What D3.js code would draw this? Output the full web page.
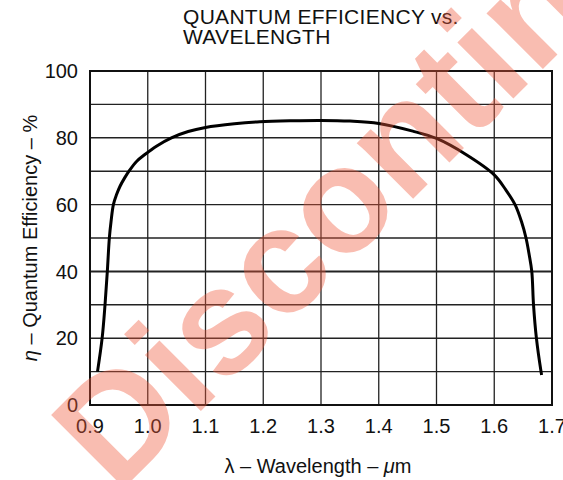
<!doctype html>
<html>
<head>
<meta charset="utf-8">
<style>
  body { margin: 0; background: #fff; }
  text { font-family: "Liberation Sans", Arial, sans-serif; fill: #111; }
</style>
</head>
<body>
<svg width="563" height="480"></svg>
<script src="https://cdn.jsdelivr.net/npm/d3@7"></script>
<script>
  // curve
  let wavelength = [0.913, 0.921, 0.926, 0.930, 0.9335, 0.9365, 0.9405, 0.946, 0.952, 0.960, 0.969, 0.981, 0.995, 1.015, 1.041, 1.07, 1.10, 1.15, 1.194, 1.25, 1.30, 1.35, 1.40, 1.459, 1.50, 1.551, 1.60, 1.62, 1.636, 1.647, 1.655, 1.6605, 1.665, 1.668, 1.673, 1.681, 1.682];
  let efficiency = [10, 20, 30, 40, 50, 55, 60, 63, 65.5, 68, 70.4, 73, 75, 77.5, 80, 81.9, 83.1, 84.2, 84.8, 85.1, 85.2, 85, 84.3, 82, 79.8, 75, 68.9, 64.4, 60, 55, 50, 45, 40, 30, 20, 10, 9];

  let xTicks = [0.9, 1.0, 1.1, 1.2, 1.3, 1.4, 1.5, 1.6, 1.7];
  let yTicks = [0, 20, 40, 60, 80, 100];
  let yGrid = [0, 10, 20, 30, 40, 50, 60, 70, 80, 90, 100];

  let svg = d3.select("svg");

  let x = d3.scaleLinear().domain([0.9, 1.7]).range([90, 552]);
  let y = d3.scaleLinear().domain([0, 100]).range([405, 71]);

  // title
  let title = svg.append("text")
    .attr("font-size", 21)
    .attr("letter-spacing", 0.3);
  title.append("tspan").attr("x", 183).attr("y", 24).text("QUANTUM EFFICIENCY vs.");
  title.append("tspan").attr("x", 183).attr("y", 44).text("WAVELENGTH");

  // grid
  svg.append("g").selectAll("line")
    .data(xTicks)
    .enter().append("line")
    .attr("x1", d => x(d)).attr("x2", d => x(d))
    .attr("y1", y(0)).attr("y2", y(100))
    .attr("stroke", "#222").attr("stroke-width", 1.3);

  svg.append("g").selectAll("line")
    .data(yGrid)
    .enter().append("line")
    .attr("x1", x(0.9)).attr("x2", x(1.7))
    .attr("y1", d => y(d)).attr("y2", d => y(d))
    .attr("stroke", "#222").attr("stroke-width", d => d == 40 ? 2 : 1.4);

  svg.append("rect")
    .attr("x", x(0.9)).attr("y", y(100))
    .attr("width", x(1.7) - x(0.9)).attr("height", y(0) - y(100))
    .attr("fill", "none").attr("stroke", "#111").attr("stroke-width", 2);

  // tick labels
  svg.append("g").selectAll("text")
    .data(xTicks)
    .enter().append("text")
    .attr("x", d => x(d)).attr("y", 433)
    .attr("text-anchor", "middle").attr("font-size", 20)
    .text(d3.format(".1f"));

  svg.append("g").selectAll("text")
    .data(yTicks)
    .enter().append("text")
    .attr("x", 78).attr("y", d => y(d))
    .attr("dy", "0.36em")
    .attr("text-anchor", "end").attr("font-size", 20)
    .text(d => d);

  // axis titles
  let xl = svg.append("text")
    .attr("x", 318).attr("y", 473)
    .attr("text-anchor", "middle").attr("font-size", 20);
  xl.append("tspan").text("λ – Wavelength – ");
  xl.append("tspan").attr("font-style", "italic").text("μ");
  xl.append("tspan").text("m");

  let yl = svg.append("text")
    .attr("transform", "translate(37,238) rotate(-90)")
    .attr("text-anchor", "middle").attr("font-size", 20);
  yl.append("tspan").attr("font-style", "italic").text("η");
  yl.append("tspan").text(" – Quantum Efficiency – %");

  // curve
  let pts = wavelength.map((w, i) => [w, efficiency[i]]);
  let line = d3.line()
    .x(d => x(d[0]))
    .y(d => y(d[1]))
    .curve(d3.curveCatmullRom.alpha(0.5));

  svg.append("path")
    .datum(pts)
    .attr("d", line)
    .attr("fill", "none")
    .attr("stroke", "#000")
    .attr("stroke-width", 3);

  // watermark
  svg.append("text")
    .attr("transform", "translate(117,495) rotate(-45)")
    .attr("font-size", 150)
    .attr("font-weight", "bold")
    .style("fill", "rgb(240,90,60)")
    .attr("fill-opacity", 0.4)
    .text("Discontinued");
</script>
</body>
</html>
